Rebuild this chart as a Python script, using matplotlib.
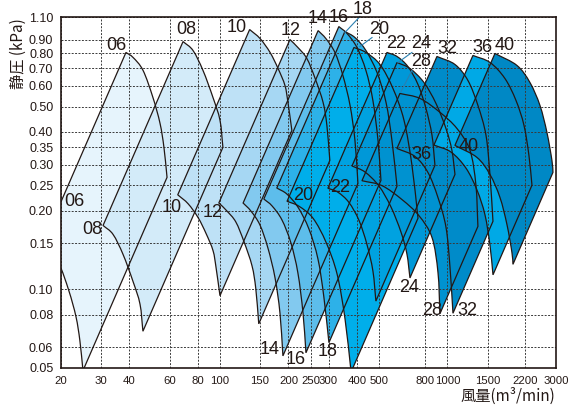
import numpy as np
import matplotlib
matplotlib.use('Agg')
import matplotlib.pyplot as plt
from matplotlib.patches import PathPatch
from matplotlib.path import Path
from matplotlib.ticker import NullLocator

# fan sizes, drawn from small to large
fans = ['06', '08', '10', '12', '14', '16', '18', '20', '22', '24', '28', '32', '36', '40']

# top (max speed) curve of each fan: air flow (m3/min) and static pressure (kPa)
q06 = [38.6, 41.5, 45.9, 50.7, 54.5, 56.7, 58.5]
p06 = [0.805, 0.770, 0.687, 0.542, 0.431, 0.349, 0.268]
q08 = [68.8, 76.1, 84.2, 93.1, 100, 103]
p08 = [0.886, 0.819, 0.687, 0.542, 0.443, 0.349]
q10 = [135, 150, 166, 180, 193, 199, 207]
p10 = [0.985, 0.910, 0.805, 0.699, 0.602, 0.518, 0.405]
q12 = [203, 220, 241, 262, 284, 295, 304]
p12 = [0.902, 0.841, 0.763, 0.640, 0.518, 0.424, 0.311]
q14 = [270, 292, 320, 347, 373, 392, 404]
p14 = [0.976, 0.910, 0.805, 0.657, 0.505, 0.371, 0.254]
q16 = [333, 362, 400, 438, 470, 495, 510]
p16 = [1.011, 0.951, 0.841, 0.687, 0.528, 0.371, 0.261]
q18 = [354, 392, 438, 490, 537, 570, 600]
p18 = [0.968, 0.918, 0.819, 0.675, 0.518, 0.371, 0.248]
q20 = [388, 438, 505, 576, 644, 698, 742]
p20 = [0.841, 0.805, 0.724, 0.586, 0.443, 0.298, 0.187]
q22 = [542, 600, 670, 742, 804, 855, 881]
p22 = [0.805, 0.777, 0.711, 0.607, 0.492, 0.388, 0.298]
q24 = [600, 684, 788, 890, 985, 1046, 1079]
p24 = [0.737, 0.699, 0.618, 0.514, 0.412, 0.340, 0.275]
q28 = [618, 757, 927, 1101, 1256, 1334, 1361]
p28 = [0.561, 0.537, 0.475, 0.412, 0.340, 0.250, 0.174]
q32 = [899, 1079, 1230, 1361, 1477, 1538, 1585]
p32 = [0.777, 0.724, 0.629, 0.505, 0.388, 0.273, 0.182]
q36 = [1294, 1538, 1789, 2000, 2169, 2281, 2352]
p36 = [0.784, 0.737, 0.640, 0.528, 0.424, 0.325, 0.250]
q40 = [1617, 2020, 2304, 2550, 2737, 2879, 2909]
p40 = [0.798, 0.718, 0.618, 0.505, 0.398, 0.311, 0.280]

# min speed / max speed ratio of each fan
turndown = [0.427, 0.445, 0.483, 0.487, 0.468, 0.468, 0.502,
            0.508, 0.550, 0.634, 0.681, 0.667, 0.674, 0.667]

fill_colors = ['#e6f4fc', '#d3ebf9', '#bee1f6', '#a6d7f3', '#82c9ef', '#5dbdeb', '#2db1e8',
               '#00aeea', '#00a2e0', '#0098d8', '#0092d0', '#008bc9', '#00a9e6', '#0088c5']

xticks = [20, 30, 40, 60, 80, 100, 150, 200, 250, 300, 400, 500, 800, 1000, 1500, 2200, 3000]
yticks = [0.05, 0.06, 0.08, 0.10, 0.15, 0.20, 0.25, 0.30, 0.35, 0.40,
          0.50, 0.60, 0.70, 0.80, 0.90, 1.10]

# fan size labels: text, flow, pressure
label_text = ['06', '06', '08', '08', '10', '10', '12', '12', '14', '16', '18', '20', '22',
              '24', '28', '32', '36', '40', '20', '22', '36', '40', '14', '16', '18',
              '24', '28', '32']
label_q = [34.9, 22.8, 70.9, 27.4, 118, 61.5, 205, 93.1, 270, 333, 425, 500, 594,
           765, 765, 995, 1418, 1789, 232, 337, 772, 1243, 166, 216, 298,
           677, 855, 1218]
label_p = [0.856, 0.217, 0.985, 0.170, 1.00, 0.206, 0.976, 0.197, 1.085, 1.095, 1.18, 0.985, 0.871,
           0.871, 0.743, 0.833, 0.84, 0.856, 0.229, 0.246, 0.328, 0.352, 0.0586, 0.054, 0.0576,
           0.102, 0.0826, 0.0826]

# leader lines from labels to peaks
leader_q = [(412, 354), (466, 412), (698, 606), (698, 625)]
leader_p = [(1.104, 0.959), (0.918, 0.848), (0.805, 0.737), (0.687, 0.571)]

curves_q = [q06, q08, q10, q12, q14, q16, q18, q20, q22, q24, q28, q32, q36, q40]
curves_p = [p06, p08, p10, p12, p14, p16, p18, p20, p22, p24, p28, p32, p36, p40]


def smooth_segments(lx, ly):
    # cubic bezier control points (Catmull-Rom) through the read points, in log space
    pts = np.column_stack([lx, ly])
    n = len(pts)
    tang = np.zeros_like(pts)
    tang[0] = pts[1] - pts[0]
    tang[-1] = pts[-1] - pts[-2]
    tang[1:-1] = (pts[2:] - pts[:-2]) / 2
    verts = []
    for i in range(n - 1):
        verts += [pts[i] + tang[i] / 3, pts[i + 1] - tang[i + 1] / 3, pts[i + 1]]
    return verts


def fan_path(q, p, r):
    lq = np.log10(q)
    lp = np.log10(p)
    lr = np.log10(r)
    # max speed curve, then min speed curve (fan laws) walked back
    top0 = np.array([lq[0], lp[0]])
    verts = [top0]
    codes = [Path.MOVETO]
    seg = smooth_segments(lq, lp)
    verts += seg
    codes += [Path.CURVE4] * len(seg)
    lq2 = (lq + lr)[::-1]
    lp2 = (lp + 2 * lr)[::-1]
    verts.append(np.array([lq2[0], lp2[0]]))
    codes.append(Path.LINETO)
    seg = smooth_segments(lq2, lp2)
    verts += seg
    codes += [Path.CURVE4] * len(seg)
    verts.append(top0)
    codes.append(Path.LINETO)
    verts.append(top0)
    codes.append(Path.CLOSEPOLY)
    verts = 10 ** np.array(verts)
    return Path(verts, codes)


plt.rcParams['font.family'] = ['Liberation Sans', 'DejaVu Sans']

fig = plt.figure(figsize=(5.76, 4.05), dpi=100)
ax = fig.add_axes([61 / 576, 1 - 368 / 405, 495 / 576, 351 / 405])
ax.set_xscale('log')
ax.set_yscale('log')
ax.set_xlim(20, 3000)
ax.set_ylim(0.05, 1.10)

paths = []
for q, p, r, c in zip(curves_q, curves_p, turndown, fill_colors):
    path = fan_path(np.array(q, float), np.array(p, float), r)
    ax.add_patch(PathPatch(path, facecolor=c, edgecolor='none', zorder=1))
    paths.append(path)

for path in paths:
    ax.add_patch(PathPatch(path, fill=False, edgecolor='#231815',
                           lw=0.9, zorder=3, joinstyle='miter'))

for lq, lp in zip(leader_q, leader_p):
    ax.plot(lq, lp, color='#2a7fb0', lw=0.8, zorder=3, clip_on=False)

for s, lq, lp in zip(label_text, label_q, label_p):
    ax.text(lq, lp, s, ha='center', va='center', fontsize=13, color='#231815',
            zorder=4, clip_on=False)

ax.set_xticks(xticks)
ax.set_xticklabels([str(t) for t in xticks])
ax.set_yticks(yticks)
ax.set_yticklabels(['%.2f' % t for t in yticks])
ax.xaxis.set_minor_locator(NullLocator())
ax.yaxis.set_minor_locator(NullLocator())
ax.tick_params(length=0, colors='#231815')
ax.tick_params(axis='x', pad=5.5, labelsize=8.2)
ax.tick_params(axis='y', pad=5.5, labelsize=9)

ax.set_axisbelow(False)
ax.grid(True, which='major', ls=(0, (2, 1.5)), color='#3a3a3a', lw=0.7)
for sp in ax.spines.values():
    sp.set_color('#231815')
    sp.set_linewidth(1.2)
    sp.set_zorder(5)

fig.text(18 / 576, 1 - 54 / 405, '静圧 (kPa)', rotation=90, ha='center', va='center',
         fontsize=11, family=['Noto Sans CJK JP', 'DejaVu Sans'], color='#231815')
fig.text(555 / 576, 1 - 396 / 405, '風量(m³/min)', ha='right', va='center',
         fontsize=11, family=['Noto Sans CJK JP', 'DejaVu Sans'], color='#231815')

fig.savefig('out.png', dpi=100)
